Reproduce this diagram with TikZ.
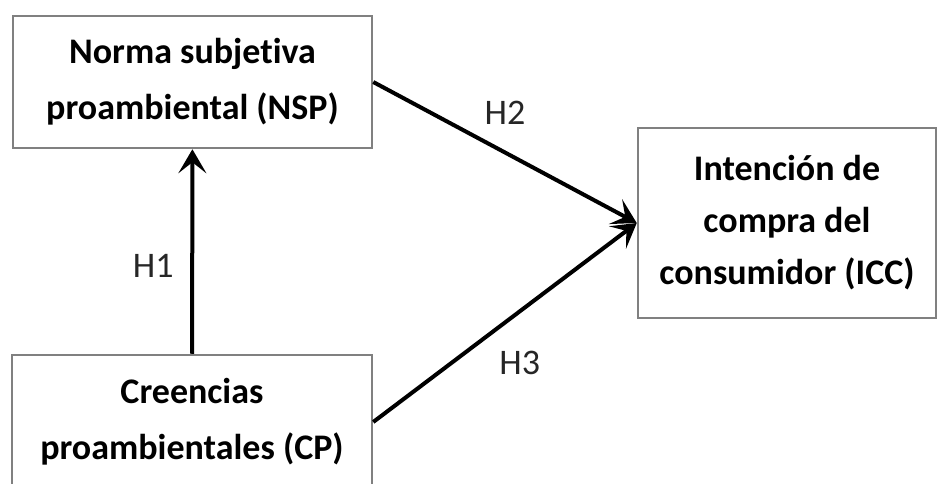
\documentclass[tikz,border=0pt]{standalone}
\usepackage{fontspec}
\setmainfont{Carlito}[Ligatures=NoCommon]
\usetikzlibrary{arrows.meta,positioning}

\begin{document}
\begin{tikzpicture}[
    x=1pt, y=1pt,
    box/.style={draw=gray, line width=2.5pt, align=center, inner sep=0pt,
        font=\bfseries\fontsize{36}{56}\selectfont},
    hyp/.style={font=\fontsize{36}{40}\selectfont, text=black!85},
    link/.style={line width=4pt, -{Stealth[length=24pt, width=28pt, inset=11pt]}}
]
\useasboundingbox (0,0) rectangle (938,483);
\node[box, minimum width=359pt, minimum height=132pt] (nsp) at (192.5,401) {Norma subjetiva\\proambiental (NSP)};
\node[box, minimum width=298pt, minimum height=190pt,
      font=\bfseries\fontsize{36}{52}\selectfont] (icc) at (787,260) {Intención de\\compra del\\consumidor (ICC)};
\node[box, minimum width=360pt, minimum height=134pt] (cp) at (192,61) {Creencias\\proambientales (CP)};

\draw[link] (cp) -- node[hyp, pos=0.43, xshift=-39pt] {H1} (nsp);
\draw[link] (nsp.east) -- node[hyp, pos=0.5, yshift=40pt] {H2} (icc.west);
\draw[link] (cp.east) -- node[hyp, pos=0.556, yshift=-52pt] {H3} (icc.west);
\end{tikzpicture}
\end{document}
